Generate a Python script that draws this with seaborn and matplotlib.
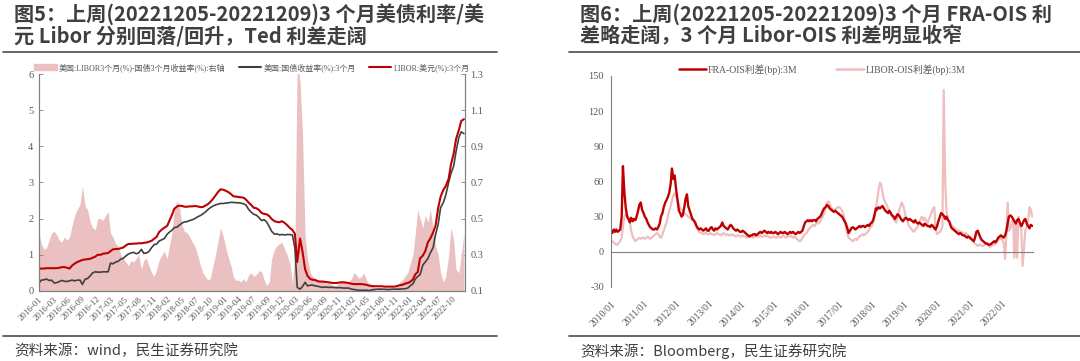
import numpy as np
import pandas as pd
import matplotlib.pyplot as plt
from matplotlib.lines import Line2D
from matplotlib.patches import Patch
import seaborn as sns

sns.set_style('white')
plt.rcParams['font.family'] = ['Liberation Serif', 'Noto Sans CJK SC']
plt.rcParams['axes.unicode_minus'] = False

# ---------------- 图5 数据 (半月频, 2016-01 ~ 2022-12) ----------------
libor_2016 = [.62, .62, .62, .63, .63, .63, .63, .63, .64, .66, .66, .64, .62, .70, .76, .80, .83, .86, .87, .88, .89, .92, .95, 1.00]
libor_2017 = [1.00, 1.03, 1.04, 1.05, 1.10, 1.15, 1.16, 1.16, 1.18, 1.20, 1.26, 1.30, 1.30, 1.31, 1.31, 1.32, 1.32, 1.33, 1.34, 1.36, 1.39, 1.44, 1.50, 1.63]
libor_2018 = [1.70, 1.75, 1.80, 1.95, 2.10, 2.27, 2.34, 2.36, 2.35, 2.33, 2.33, 2.34, 2.34, 2.35, 2.34, 2.32, 2.32, 2.36, 2.40, 2.46, 2.55, 2.64, 2.74, 2.81]
libor_2019 = [2.80, 2.77, 2.73, 2.68, 2.62, 2.61, 2.60, 2.59, 2.58, 2.53, 2.44, 2.38, 2.30, 2.29, 2.24, 2.16, 2.13, 2.12, 2.07, 1.99, 1.93, 1.91, 1.90, 1.93]
libor_2020 = [1.88, 1.82, 1.74, 1.69, 1.58, 0.80, 1.45, 1.10, 0.60, 0.42, 0.33, 0.31, 0.30, 0.27, 0.26, 0.26, 0.25, 0.24, 0.23, 0.22, 0.22, 0.23, 0.24, 0.24]
libor_2021 = [0.23, 0.22, 0.20, 0.19, 0.19, 0.19, 0.19, 0.18, 0.17, 0.15, 0.14, 0.13, 0.13, 0.13, 0.13, 0.12, 0.12, 0.12, 0.12, 0.12, 0.14, 0.16, 0.17, 0.20]
libor_2022 = [0.22, 0.25, 0.32, 0.46, 0.52, 0.90, 0.98, 1.10, 1.35, 1.45, 1.62, 1.80, 2.30, 2.60, 2.80, 2.90, 3.10, 3.50, 3.80, 4.20, 4.45, 4.70, 4.75]

tbill_2016 = [.22, .30, .31, .33, .29, .30, .22, .23, .26, .29, .27, .26, .28, .30, .28, .30, .30, .18, .33, .34, .42, .50, .53, .52]
tbill_2017 = [.52, .53, .53, .53, .77, .75, .80, .82, .88, .90, .97, 1.02, 1.05, 1.07, 1.03, 1.05, 1.15, 1.04, 1.05, 1.09, 1.20, 1.28, 1.30, 1.38]
tbill_2018 = [1.42, 1.45, 1.57, 1.63, 1.68, 1.75, 1.77, 1.82, 1.88, 1.91, 1.92, 1.95, 1.97, 2.00, 2.05, 2.08, 2.13, 2.18, 2.25, 2.30, 2.35, 2.38, 2.40, 2.42]
tbill_2019 = [2.42, 2.43, 2.44, 2.45, 2.45, 2.44, 2.44, 2.43, 2.41, 2.38, 2.25, 2.18, 2.12, 2.10, 2.03, 1.95, 1.97, 1.91, 1.78, 1.65, 1.57, 1.58, 1.55, 1.56]
tbill_2020 = [1.55, 1.56, 1.56, 1.55, 1.20, 0.10, 0.05, 0.12, 0.24, 0.14, 0.16, 0.16, 0.14, 0.13, 0.11, 0.10, 0.11, 0.10, 0.10, 0.10, 0.09, 0.09, 0.09, 0.08]
tbill_2021 = [.08, .08, .05, .04, .03, .02, .02, .02, .02, .01, .03, .04, .05, .05, .05, .05, .04, .04, .05, .05, .05, .05, .06, .06]
tbill_2022 = [.08, .14, .20, .33, .40, .45, .72, .80, .90, 1.05, 1.20, 1.55, 1.85, 2.30, 2.45, 2.65, 3.00, 3.25, 3.45, 3.85, 4.25, 4.40, 4.35]

ted_2016 = [.42, .36, .33, .34, .38, .42, .43, .41, .38, .37, .40, .38, .40, .46, .52, .55, .58, .68, .57, .55, .48, .45, .44, .50]
ted_2017 = [.50, .49, .52, .54, .42, .40, .36, .35, .30, .28, .26, .24, .27, .26, .28, .30, .22, .27, .28, .24, .20, .18, .22, .27]
ted_2018 = [.30, .32, .28, .35, .42, .55, .60, .56, .46, .43, .42, .40, .37, .35, .30, .25, .20, .18, .16, .17, .24, .30, .38, .45]
ted_2019 = [.40, .34, .28, .24, .18, .16, .16, .15, .17, .15, .19, .20, .18, .19, .21, .21, .16, .13, .15, .28, .33, .35, .36, .37]
ted_2020 = [.33, .30, .25, .14, .30, 1.40, 1.25, .98, .40, .28, .20, .18, .17, .16, .15, .16, .14, .15, .14, .13, .13, .14, .15, .16]
ted_2021 = [.14, .15, .17, .20, .19, .17, .18, .20, .16, .14, .13, .12, .11, .12, .11, .11, .12, .12, .11, .12, .13, .15, .16, .18]
ted_2022 = [.20, .25, .30, .42, .55, .50, .45, .52, .48, .55, .45, .35, .30, .20, .15, .18, .30, .45, .38, .22, .20, .30, .42]

left_tick_labels = ['2016-01', '2016-03', '2016-06', '2016-09', '2016-12', '2017-03', '2017-05', '2017-08',
                    '2017-11', '2018-02', '2018-05', '2018-07', '2018-10', '2019-01', '2019-04', '2019-07',
                    '2019-09', '2019-12', '2020-03', '2020-06', '2020-09', '2020-11', '2021-02', '2021-05',
                    '2021-08', '2021-11', '2022-01', '2022-04', '2022-07', '2022-10']

# ---------------- 图6 数据 (半月频, 2010-01 ~ 2022-12, bp) ----------------
fra_2010 = [18, 16, 19, 17, 19, 17, 18, 19, 30, 73, 50, 38, 30, 28, 25, 29, 26, 28, 27, 30, 35, 40, 42, 36]
fra_2011 = [33, 30, 28, 25, 23, 21, 20, 19, 19, 20, 19, 21, 24, 30, 33, 38, 42, 44, 47, 50, 58, 71, 62, 65]
fra_2012 = [53, 45, 35, 33, 30, 31, 38, 45, 49, 39, 35, 32, 28, 27, 25, 22, 20, 19, 20, 19, 18, 19, 20, 18]
fra_2013 = [18, 20, 21, 19, 18, 20, 19, 20, 21, 22, 25, 22, 21, 20, 19, 21, 23, 22, 20, 19, 18, 19, 18, 17]
fra_2014 = [17, 18, 17, 16, 15, 14, 13, 14, 14, 15, 15, 14, 15, 16, 17, 16, 17, 18, 17, 16, 17, 16, 17, 16]
fra_2015 = [16, 17, 16, 15, 16, 17, 16, 16, 17, 16, 15, 16, 17, 16, 17, 16, 15, 16, 17, 16, 17, 18, 22, 25]
fra_2016 = [26, 27, 26, 27, 26, 27, 27, 26, 28, 29, 30, 32, 35, 37, 38, 40, 39, 37, 36, 35, 34, 35, 34, 33]
fra_2017 = [32, 31, 30, 28, 26, 24, 20, 16, 18, 20, 21, 20, 19, 20, 21, 22, 21, 22, 22, 21, 22, 23, 22, 24]
fra_2018 = [25, 27, 32, 37, 36, 38, 37, 38, 39, 37, 35, 34, 33, 35, 33, 31, 30, 28, 30, 32, 31, 29, 27, 26]
fra_2019 = [28, 29, 28, 27, 28, 27, 26, 25, 27, 25, 24, 25, 24, 23, 22, 24, 23, 22, 22, 21, 23, 22, 20, 19]
fra_2020 = [22, 26, 30, 33, 32, 31, 28, 30, 27, 26, 22, 20, 19, 18, 17, 16, 15, 16, 15, 14, 14, 13, 12, 13]
fra_2021 = [12, 11, 10, 9, 12, 17, 18, 15, 12, 10, 9, 8, 7, 7, 6, 6, 7, 8, 9, 8, 10, 12, 13, 14]
fra_2022 = [13, 12, 14, 18, 24, 30, 31, 30, 28, 26, 24, 27, 28, 25, 22, 24, 27, 28, 24, 22, 20, 23, 22]

lois_2010 = [10, 9, 8, 7, 6, 6, 8, 9, 12, 22, 30, 32, 31, 30, 25, 18, 13, 11, 9, 10, 11, 12, 11, 12]
lois_2011 = [12, 11, 12, 13, 12, 11, 12, 13, 14, 15, 16, 15, 13, 12, 15, 18, 22, 25, 30, 35, 39, 44, 48, 50]
lois_2012 = [47, 45, 40, 37, 36, 35, 33, 32, 31, 30, 29, 28, 27, 26, 24, 22, 19, 17, 16, 16, 15, 16, 16, 15]
lois_2013 = [15, 16, 15, 15, 14, 15, 16, 15, 15, 14, 15, 16, 15, 14, 15, 14, 14, 15, 14, 14, 13, 14, 14, 13]
lois_2014 = [13, 14, 13, 13, 12, 13, 13, 14, 13, 12, 13, 14, 13, 13, 14, 13, 13, 14, 13, 14, 13, 12, 12, 13]
lois_2015 = [13, 12, 12, 13, 13, 12, 13, 14, 13, 12, 13, 13, 14, 13, 12, 13, 12, 11, 10, 9, 10, 12, 14, 15]
lois_2016 = [16, 18, 20, 21, 22, 23, 22, 24, 25, 24, 26, 28, 30, 33, 38, 42, 43, 41, 38, 36, 35, 36, 37, 38]
lois_2017 = [38, 37, 35, 32, 28, 22, 15, 12, 11, 10, 9, 10, 11, 10, 12, 13, 14, 15, 14, 15, 16, 17, 19, 21]
lois_2018 = [22, 25, 30, 38, 44, 52, 59, 57, 50, 45, 42, 40, 37, 34, 32, 30, 28, 26, 25, 30, 35, 38, 42, 40]
lois_2019 = [35, 30, 26, 23, 21, 20, 18, 17, 19, 20, 22, 25, 28, 30, 27, 29, 26, 24, 28, 30, 34, 37, 38, 20]
lois_2020 = [15, 16, 17, 18, 22, 138, 60, 35, 28, 26, 24, 22, 21, 20, 19, 18, 18, 17, 17, 16, 15, 16, 15, 14]
lois_2021 = [13, 12, 10, 8, 7, 6, 5, 6, 6, 5, 5, 6, 7, 6, 5, 4, 5, 6, 6, 7, 8, 10, 11, 12]
lois_2022 = [10, 8, -6, 15, 42, 18, 20, 25, 28, -5, 25, -5, 30, 22, 20, -12, 5, 18, 22, 25, 38, 36, 30]

right_years = list(range(2010, 2023))

# 组装数据
df_l = pd.DataFrame({
    'date': pd.date_range('2016-01-01', '2022-12-01', freq='SMS'),
    'libor': np.concatenate([libor_2016, libor_2017, libor_2018, libor_2019, libor_2020, libor_2021, libor_2022]),
    'tbill': np.concatenate([tbill_2016, tbill_2017, tbill_2018, tbill_2019, tbill_2020, tbill_2021, tbill_2022]),
    'ted': np.concatenate([ted_2016, ted_2017, ted_2018, ted_2019, ted_2020, ted_2021, ted_2022]),
})
df_r = pd.DataFrame({
    'date': pd.date_range('2010-01-01', '2022-12-01', freq='SMS'),
    'fra': np.concatenate([fra_2010, fra_2011, fra_2012, fra_2013, fra_2014, fra_2015, fra_2016,
                           fra_2017, fra_2018, fra_2019, fra_2020, fra_2021, fra_2022]),
    'lois': np.concatenate([lois_2010, lois_2011, lois_2012, lois_2013, lois_2014, lois_2015, lois_2016,
                            lois_2017, lois_2018, lois_2019, lois_2020, lois_2021, lois_2022]),
})

RED = '#C00000'
DARK = '#404040'
PINK_FILL = '#EBC0C0'
PINK_LINE = '#F0BEBE'
GREY = '#595959'
SPINE = '#808080'
CJK = ['Noto Sans CJK SC', 'DejaVu Sans']

fig = plt.figure(figsize=(10.8, 3.61), dpi=100)

# ---------------- 图5 ----------------
ax1 = fig.add_axes([0.0361, 0.194, 0.3944, 0.601])
ax1r = ax1.twinx()
ax1r.fill_between(df_l['date'], 0.1, df_l['ted'], color=PINK_FILL, lw=0)
ax1r.set_ylim(0.1, 1.3)
ax1r.set_yticks(np.arange(0.1, 1.31, 0.2))
ax1r.set_yticklabels([f'{v:.1f}' for v in np.arange(0.1, 1.31, 0.2)])
ax1.set_zorder(ax1r.get_zorder() + 1)
ax1.patch.set_visible(False)

sns.lineplot(data=df_l, x='date', y='tbill', ax=ax1, color=DARK, lw=1.2)
sns.lineplot(data=df_l, x='date', y='libor', ax=ax1, color=RED, lw=1.5)
ax1.set_ylim(0, 6)
ax1.set_xlim(df_l['date'].iloc[0], df_l['date'].iloc[-1] + pd.Timedelta(days=6))
ax1.set_yticks(range(0, 7))
ax1.set_xlabel('')
ax1.set_ylabel('')
ax1r.set_ylabel('')

tick_pos = [df_l['date'].iloc[0] + pd.Timedelta(days=84.7 * i) for i in range(len(left_tick_labels))]
ax1.set_xticks(tick_pos)
ax1.set_xticklabels(left_tick_labels)

for a in (ax1, ax1r):
    a.spines['top'].set_visible(False)
    for s in ('left', 'right', 'bottom'):
        a.spines[s].set_color(SPINE)
        a.spines[s].set_linewidth(0.8)
    a.tick_params(axis='both', direction='in', length=3, width=0.6, color=SPINE, labelsize=7.5, labelcolor=GREY, pad=4)
ax1.tick_params(axis='x', pad=3, labelsize=6.5)
plt.setp(ax1.get_xticklabels(), rotation=45, ha='right', rotation_mode='anchor')

handles1 = [Patch(color=PINK_FILL), Line2D([], [], color=DARK, lw=1.5), Line2D([], [], color=RED, lw=1.5)]
labels1 = ['美国:LIBOR3个月(%)-国债3个月收益率(%):右轴', '美国:国债收益率(%):3个月', 'LIBOR:美元(%):3个月']
ax1.legend(handles1, labels1, ncol=3, loc='lower center', bbox_to_anchor=(0.5, 0.995), frameon=False,
           fontsize=5.8, handlelength=2.8, handleheight=0.9, handletextpad=0.3, columnspacing=1.6,
           borderaxespad=0, labelcolor=GREY)

# ---------------- 图6 ----------------
ax2 = fig.add_axes([0.5657, 0.205, 0.3907, 0.585])
sns.lineplot(data=df_r, x='date', y='lois', ax=ax2, color=PINK_LINE, lw=1.6)
sns.lineplot(data=df_r, x='date', y='fra', ax=ax2, color=RED, lw=1.7)
ax2.spines['top'].set_visible(False)
ax2.spines['right'].set_visible(False)
ax2.spines['bottom'].set_position(('data', 0))
ax2.set_ylim(-30, 150)
ax2.set_yticks(range(-30, 151, 30))
ax2.set_xlim(pd.Timestamp('2010-01-01'), pd.Timestamp('2022-12-09'))
ax2.set_xticks([pd.Timestamp(f'{y}-01-01') for y in right_years])
ax2.set_xticklabels([f'{y}/01' for y in right_years])
ax2.set_xlabel('')
ax2.set_ylabel('')
for s in ('left', 'bottom'):
    ax2.spines[s].set_color(SPINE)
    ax2.spines[s].set_linewidth(0.8)
ax2.tick_params(axis='y', direction='in', length=3, width=0.6, color=SPINE, labelsize=7.5, labelcolor=GREY, pad=5)
ax2.tick_params(axis='x', direction='out', length=3, width=0.6, color=SPINE, labelsize=7, labelcolor=GREY, pad=31)
plt.setp(ax2.get_xticklabels(), rotation=45, ha='right', rotation_mode='anchor')

handles2 = [Line2D([], [], color=RED, lw=1.8), Line2D([], [], color=PINK_LINE, lw=1.8)]
labels2 = ['FRA-OIS利差(bp):3M', 'LIBOR-OIS利差(bp):3M']
ax2.legend(handles2, labels2, ncol=2, loc='lower center', bbox_to_anchor=(0.5, 0.985), frameon=False,
           fontsize=7, handlelength=2.8, handletextpad=0.2, columnspacing=4.0, borderaxespad=0,
           labelcolor=GREY)

# ---------------- 标题 / 来源 ----------------
title_kw = dict(fontsize=14.5, fontweight='bold', color='#3F3F3F', family=CJK, va='center', ha='left')
fig.text(14 / 1080, 1 - 14 / 361, '图5：上周(20221205-20221209)3 个月美债利率/美', **title_kw)
fig.text(14 / 1080, 1 - 36 / 361, '元 Libor 分别回落/回升，Ted 利差走阔', **title_kw)
fig.text(580 / 1080, 1 - 14 / 361, '图6：上周(20221205-20221209)3 个月 FRA-OIS 利', **title_kw)
fig.text(580 / 1080, 1 - 36 / 361, '差略走阔，3 个月 Libor-OIS 利差明显收窄', **title_kw)

src_kw = dict(fontsize=10.5, color='#404040', family=CJK, va='center', ha='left')
fig.text(14 / 1080, 1 - 351 / 361, '资料来源：wind，民生证券研究院', **src_kw)
fig.text(580 / 1080, 1 - 351 / 361, '资料来源：Bloomberg，民生证券研究院', **src_kw)

for x0, x1 in ((3, 497), (569, 1080)):
    for yy in (52, 336):
        fig.add_artist(Line2D([x0 / 1080, x1 / 1080], [1 - yy / 361, 1 - yy / 361],
                              color='#595959', lw=1.3, transform=fig.transFigure))

fig.savefig('out.png', dpi=100)
